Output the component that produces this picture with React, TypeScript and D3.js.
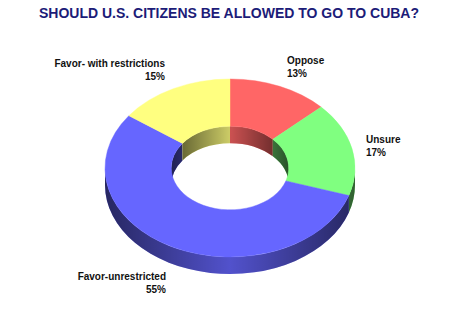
import { useEffect, useRef } from 'react';
import * as d3 from 'd3';

const categories = ['Oppose', 'Unsure', 'Favor-unrestricted', 'Favor- with restrictions'];
const values = [13, 17, 55, 15];
const colors = ['#ff6666', '#80ff80', '#6666ff', '#ffff80'];
const title = 'SHOULD U.S. CITIZENS BE ALLOWED TO GO TO CUBA?';

// label placement per slice: [x, y, anchor]
const labelPos: [number, number, string][] = [
  [287, 64, 'start'],
  [366, 143, 'start'],
  [166, 280, 'end'],
  [165, 67, 'end'],
];

export default function App() {
  const svgRef = useRef<SVGSVGElement>(null);

  useEffect(() => {
    document.body.style.margin = '0';
    if (!svgRef.current) return;
    const svg = d3.select(svgRef.current);
    svg.selectAll('*').remove();

    const W = 459, H = 334;
    const cx = 230, cy = 168;
    const rx = 125, ry = 89;
    const inner = 0.47;
    const irx = rx * inner, iry = ry * inner;
    const depth = 17;

    svg.attr('width', W).attr('height', H);
    svg.append('rect').attr('width', W).attr('height', H).attr('fill', '#fff');

    const defs = svg.append('defs');
    const mkGrad = (id: string, x1: number, x2: number, edge: number, mid: number) => {
      const g = defs.append('linearGradient')
        .attr('id', id)
        .attr('gradientUnits', 'userSpaceOnUse')
        .attr('x1', x1).attr('x2', x2).attr('y1', 0).attr('y2', 0);
      g.append('stop').attr('offset', '0%').attr('stop-color', '#000').attr('stop-opacity', edge);
      g.append('stop').attr('offset', '50%').attr('stop-color', '#000').attr('stop-opacity', mid);
      g.append('stop').attr('offset', '100%').attr('stop-color', '#000').attr('stop-opacity', edge);
    };
    mkGrad('shadeOuter', cx - rx, cx + rx, 0.62, 0.2);
    mkGrad('shadeInner', cx - irx, cx + irx, 0.68, 0.2);

    const pie = d3.pie<number>().sort(null).value(d => d);
    const arcs = pie(values);

    const pt = (a: number, erx: number, ery: number, dy = 0) =>
      [cx + erx * Math.sin(a), cy - ery * Math.cos(a) + dy];

    const band = (erx: number, ery: number, s1: number, s2: number) => {
      const p1 = pt(s1, erx, ery), p2 = pt(s2, erx, ery);
      const q2 = pt(s2, erx, ery, depth), q1 = pt(s1, erx, ery, depth);
      const large = s2 - s1 > Math.PI ? 1 : 0;
      return `M${p1[0]},${p1[1]} A${erx},${ery} 0 ${large} 1 ${p2[0]},${p2[1]} ` +
        `L${q2[0]},${q2[1]} A${erx},${ery} 0 ${large} 0 ${q1[0]},${q1[1]} Z`;
    };

    // outer side (front half)
    const gSide = svg.append('g');
    arcs.forEach((d, i) => {
      const s1 = Math.max(d.startAngle, Math.PI / 2);
      const s2 = Math.min(d.endAngle, Math.PI * 1.5);
      if (s2 <= s1) return;
      const p = band(rx, ry, s1, s2);
      gSide.append('path').attr('d', p).attr('fill', colors[i]);
      gSide.append('path').attr('d', p).attr('fill', 'url(#shadeOuter)');
    });

    // inner wall (back half)
    const gWall = svg.append('g');
    arcs.forEach((d, i) => {
      const ranges: [number, number][] = [[0, Math.PI / 2], [Math.PI * 1.5, Math.PI * 2]];
      ranges.forEach(([r1, r2]) => {
        const s1 = Math.max(d.startAngle, r1);
        const s2 = Math.min(d.endAngle, r2);
        if (s2 <= s1) return;
        const p = band(irx, iry, s1, s2);
        gWall.append('path').attr('d', p).attr('fill', colors[i]);
        gWall.append('path').attr('d', p).attr('fill', 'url(#shadeInner)');
      });
    });

    // top face
    const arc = d3.arc<d3.PieArcDatum<number>>().innerRadius(irx).outerRadius(rx);
    svg.append('g')
      .attr('transform', `translate(${cx},${cy}) scale(1,${ry / rx})`)
      .selectAll('path')
      .data(arcs)
      .enter()
      .append('path')
      .attr('d', arc)
      .attr('fill', (_, i) => colors[i])
      .attr('stroke', (_, i) => colors[i])
      .attr('stroke-width', 0.5);

    // title
    svg.append('text')
      .attr('x', 229)
      .attr('y', 18)
      .attr('text-anchor', 'middle')
      .style('font-family', 'Liberation Sans, Arial, sans-serif')
      .style('font-weight', 'bold')
      .style('font-size', '14px')
      .attr('fill', '#1c1c78')
      .text(title);

    // labels
    const total = d3.sum(values);
    const gLab = svg.append('g')
      .style('font-family', 'Liberation Sans, Arial, sans-serif')
      .style('font-weight', 'bold')
      .style('font-size', '10px')
      .attr('fill', '#111');
    categories.forEach((c, i) => {
      const [x, y, anchor] = labelPos[i];
      gLab.append('text').attr('x', x).attr('y', y).attr('text-anchor', anchor).text(c);
      gLab.append('text').attr('x', x).attr('y', y + 12.5).attr('text-anchor', anchor)
        .text(`${Math.round((values[i] / total) * 100)}%`);
    });
  }, []);

  return <svg ref={svgRef} style={{ display: 'block' }}></svg>;
}
